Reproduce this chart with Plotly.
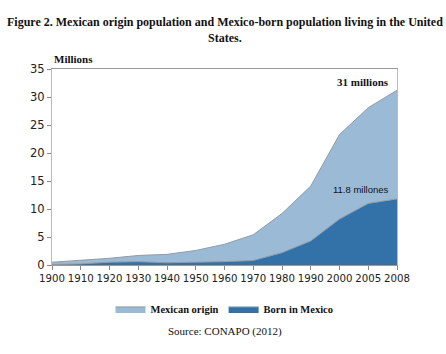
import plotly.graph_objects as go

years = ["1900", "1910", "1920", "1930", "1940", "1950", "1960", "1970", "1980", "1990", "2000", "2005", "2008"]
mexican_origin = [0.5, 0.8, 1.2, 1.7, 1.9, 2.6, 3.7, 5.4, 9.2, 14.1, 23.3, 28.1, 31.2]
born_in_mexico = [0.1, 0.2, 0.5, 0.6, 0.4, 0.45, 0.6, 0.8, 2.2, 4.3, 8.2, 11.0, 11.8]
y_ticks = [0, 5, 10, 15, 20, 25, 30, 35]

light = "#9bbad6"
dark = "#3372a9"
edge = "#9a9a9a"

fig = go.Figure()
fig.add_trace(go.Scatter(x=years, y=mexican_origin, name="<b>Mexican origin</b>", mode="lines",
                         fill="tozeroy", fillcolor=light, line=dict(color=edge, width=1)))
fig.add_trace(go.Scatter(x=years, y=born_in_mexico, name="<b>Born in Mexico</b>", mode="lines",
                         fill="tozeroy", fillcolor=dark, line=dict(color=edge, width=1)))

serif = "Liberation Serif"
sans = "DejaVu Sans"

fig.update_layout(
    width=446, height=354,
    margin=dict(l=52, r=49, t=69, b=89),
    paper_bgcolor="white", plot_bgcolor="white",
    showlegend=True,
    legend=dict(orientation="h", x=0.5, xanchor="center", y=-0.15, yanchor="top",
                font=dict(family=serif, size=10.5, color="#111"), itemwidth=30,
                traceorder="normal"),
    xaxis=dict(type="category", range=[0, 12], showgrid=False, ticks="outside",
               ticklen=4, tickcolor="#888", showline=True, linecolor="#999", mirror=True,
               tickfont=dict(family=sans, size=10.2, color="#222")),
    yaxis=dict(range=[0, 35], tickvals=y_ticks, showgrid=False, ticks="outside",
               ticklen=4, tickcolor="#888", showline=True, linecolor="#bbb", mirror=True,
               tickfont=dict(family=sans, size=11.5, color="#222"), zeroline=False),
    annotations=[
        dict(text="<b>Figure 2. Mexican origin population and Mexico-born population living in the United<br>States.</b>",
             xref="paper", yref="paper", x=0.5, y=1, xanchor="center", yanchor="bottom",
             showarrow=False, font=dict(family=serif, size=12, color="#111"), align="center",
             yshift=22),
        dict(text="<b>Millions</b>", xref="paper", yref="paper", x=0.0, y=1, xanchor="left",
             yanchor="bottom", showarrow=False, font=dict(family=serif, size=11, color="#111"),
             yshift=2),
        dict(text="<b>31 millions</b>", xref="x", yref="y", x=12, y=31.2, xanchor="right",
             yanchor="bottom", xshift=-6, yshift=0, showarrow=False,
             font=dict(family=serif, size=11, color="#111")),
        dict(text="11.8 millones", xref="x", yref="y", x=12, y=11.8, xanchor="right",
             yanchor="bottom", xshift=-6, yshift=2, showarrow=False,
             font=dict(family="Liberation Sans Narrow, Liberation Sans", size=9.5, color="#111")),
        dict(text="Source: CONAPO (2012)", xref="paper", yref="paper", x=0.5, y=0,
             xanchor="center", yanchor="top", yshift=-58, showarrow=False,
             font=dict(family=serif, size=11, color="#111")),
    ],
)

fig.write_html("out.html")
